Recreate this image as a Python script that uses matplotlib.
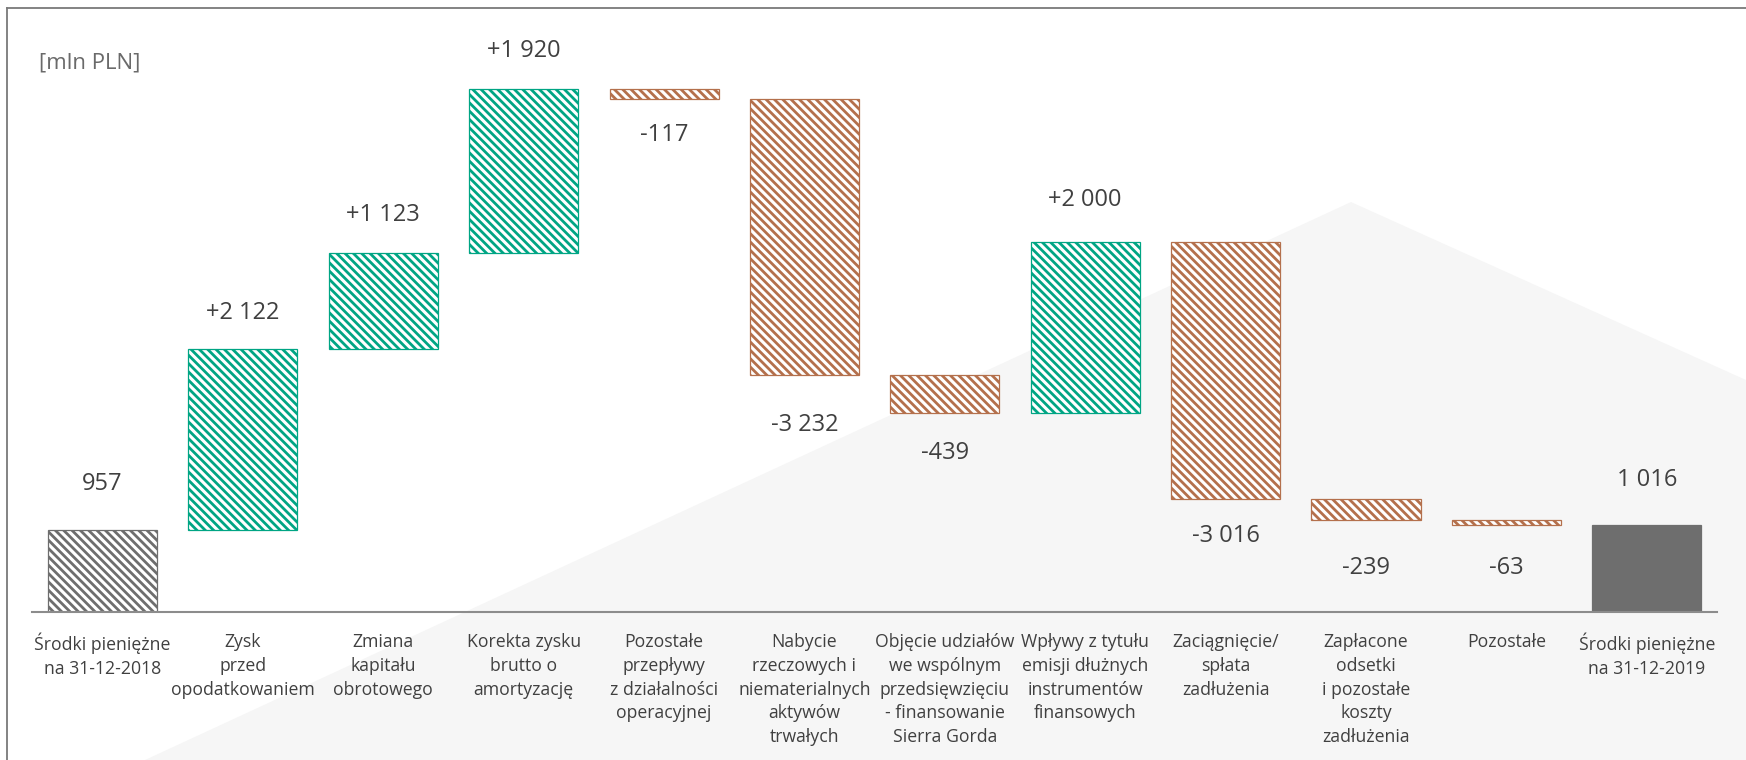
import numpy as np
import matplotlib
matplotlib.use("Agg")
import matplotlib.pyplot as plt
from matplotlib.patches import Polygon
from matplotlib.lines import Line2D

# --- data -------------------------------------------------------------
categories = [
    "Środki pieniężne\nna 31-12-2018",
    "Zysk\nprzed\nopodatkowaniem",
    "Zmiana\nkapitału\nobrotowego",
    "Korekta zysku\nbrutto o\namortyzację",
    "Pozostałe\nprzepływy\nz działalności\noperacyjnej",
    "Nabycie\nrzeczowych i\nniematerialnych\naktywów\ntrwałych",
    "Objęcie udziałów\nwe wspólnym\nprzedsięwzięciu\n- finansowanie\nSierra Gorda",
    "Wpływy z tytułu\nemisji dłużnych\ninstrumentów\nfinansowych",
    "Zaciągnięcie/\nspłata\nzadłużenia",
    "Zapłacone\nodsetki\ni pozostałe\nkoszty\nzadłużenia",
    "Pozostałe",
    "Środki pieniężne\nna 31-12-2019",
]
values = [957, 2122, 1123, 1920, -117, -3232, -439, 2000, -3016, -239, -63, 1016]
is_total = [True, False, False, False, False, False, False, False, False, False, False, True]
unit_label = "[mln PLN]"

# --- style ------------------------------------------------------------
GREEN = "#00a584"
BROWN = "#b4704c"
GREY = "#6e6e6e"
TEXT = "#404040"
HATCH = "\\\\\\\\"
label_gap_px = [46, 36, 38, 38, 36, 50, 40, 42, 37, 48, 43, 45]

plt.rcParams["font.family"] = ["Open Sans", "DejaVu Sans"]
plt.rcParams["hatch.linewidth"] = 2.0

W, H = 1746, 760
fig = plt.figure(figsize=(W / 100, H / 100), dpi=100)
fig.patch.set_facecolor("white")

# light decorative shape in the background
bg = Polygon([(145 / W, 0), (1351 / W, 1 - 202 / H), (1, 1 - 380 / H), (1, 0)],
             closed=True, transform=fig.transFigure,
             facecolor="#f6f6f6", edgecolor="none", zorder=-5)
fig.add_artist(bg)

# frame lines (top and left)
fig.add_artist(Line2D([7 / W, 7 / W], [0, 1 - 8 / H], transform=fig.transFigure,
                      color="#7a7a7a", lw=1.3, zorder=-4))
fig.add_artist(Line2D([7 / W, 1], [1 - 8 / H, 1 - 8 / H], transform=fig.transFigure,
                      color="#7a7a7a", lw=1.3, zorder=-4))

base_px = 612
ax = fig.add_axes([32 / W, (H - base_px) / H, (1717 - 32) / W, base_px / H])
ax.set_facecolor("none")
for s in ax.spines.values():
    s.set_visible(False)

# waterfall geometry
bottoms, heights, colors, hatches = [], [], [], []
level = 0
for v, tot in zip(values, is_total):
    if tot:
        bottoms.append(0)
        heights.append(v)
        level = v
    else:
        bottoms.append(level)
        heights.append(v)
        level += v
for i, (v, tot) in enumerate(zip(values, is_total)):
    if tot:
        colors.append(GREY)
        hatches.append(HATCH if i == 0 else None)
    else:
        colors.append(GREEN if v > 0 else BROWN)
        hatches.append(HATCH)

x = np.arange(len(values))
bars = ax.bar(x, heights, bottom=bottoms, width=0.777, edgecolor=colors,
              linewidth=0.9, zorder=3)
for p, c, h in zip(bars.patches, colors, hatches):
    if h is None:
        p.set_facecolor(c)
    else:
        p.set_facecolor("white")
        p.set_hatch(h)

ax.set_xlim(-0.502, 11.5)
ax.set_ylim(0, base_px / 0.08538)
ax.axhline(0, color="#8c8c8c", lw=1.5, zorder=4, clip_on=False)

ax.set_xticks(x, categories)
ax.tick_params(axis="x", length=0, pad=15, labelsize=12.7, labelcolor=TEXT)
ax.tick_params(axis="y", left=False, labelleft=False)
for t in ax.get_xticklabels():
    t.set_linespacing(1.42)

# value labels
for i, (v, b, h, tot) in enumerate(zip(values, bottoms, heights, is_total)):
    top = b + h
    if tot:
        txt = f"{v:,}".replace(",", " ")
    else:
        txt = ("+" if v > 0 else "-") + f"{abs(v):,}".replace(",", " ")
    if v > 0:
        y, off = max(b, top), label_gap_px[i]
    else:
        y, off = min(b, top), -label_gap_px[i]
    ax.annotate(txt, xy=(i, y), xytext=(0, off), textcoords="offset pixels",
                ha="center", va="center", fontsize=17, color=TEXT)

fig.text(39 / W, 1 - 63 / H, unit_label, ha="left", va="center",
         fontsize=16, color="#6a6a6a")

fig.savefig("out.png", dpi=100)
